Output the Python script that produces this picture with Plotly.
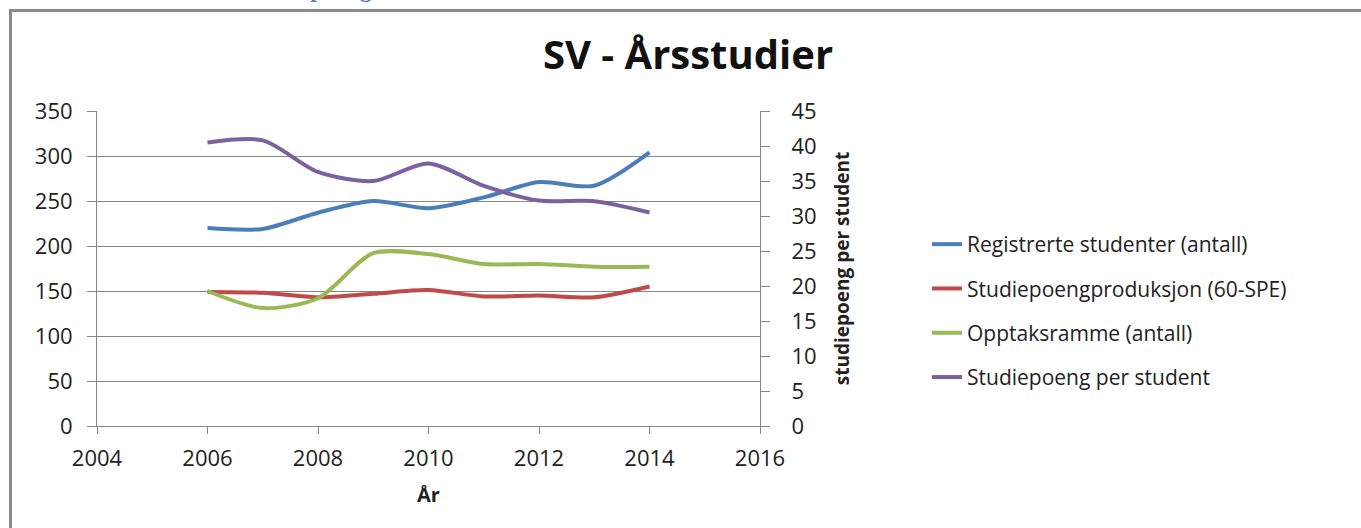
import plotly.graph_objects as go

years = [2006, 2007, 2008, 2009, 2010, 2011, 2012, 2013, 2014]
registrerte = [220, 219, 237, 250, 242, 254, 271, 267, 304]
produksjon = [149, 148, 143, 147, 151, 144, 145, 143, 155]
opptaksramme = [150, 131, 142, 192, 191, 180, 180, 177, 177]
sp_per_student = [40.5, 40.8, 36.3, 35.0, 37.5, 34.3, 32.2, 32.1, 30.5]

names = ["Registrerte studenter (antall)", "Studiepoengproduksjon (60-SPE)",
         "Opptaksramme (antall)", "Studiepoeng per student"]
colors = ["#4A7EBB", "#BE4B48", "#98B954", "#7D60A0"]

FONT = "Open Sans"
W, H = 1361, 528
L, R, T, B = 97, 760, 111, 426

fig = go.Figure()
series = [registrerte, produksjon, opptaksramme]
for i, s in enumerate(series):
    fig.add_trace(go.Scatter(x=years, y=s, name=names[i], mode="lines",
                             line=dict(color=colors[i], width=4, shape="spline", smoothing=0.8),
                             legendgroup=str(i), yaxis="y"))
fig.add_trace(go.Scatter(x=years, y=sp_per_student, name=names[3], mode="lines",
                         line=dict(color=colors[3], width=4, shape="spline", smoothing=0.8),
                         legendgroup="3", yaxis="y2"))

def px2x(px):
    return (px - L) / (R - L)

def py2y(py):
    return (B - py) / (B - T)

axcol = "#868686"
fig.update_layout(
    width=W, height=H,
    margin=dict(l=L, r=W - R, t=T, b=H - B, pad=0),
    plot_bgcolor="white", paper_bgcolor="white",
    font=dict(family=FONT, size=21, color="#222222"),
    title=dict(text="<b>SV - Årsstudier</b>", x=(688) / W, xanchor="center",
               y=1 - 55 / H, yanchor="middle",
               font=dict(family=FONT, size=40, color="#111111")),
    xaxis=dict(range=[2004, 2016], dtick=2, tick0=2004, showgrid=False,
               showline=True, linecolor=axcol, linewidth=1,
               ticks="outside", ticklen=7, tickcolor=axcol,
               tickfont=dict(size=22), zeroline=False, ticklabelstandoff=6,
               title=dict(text="<b>År</b>", font=dict(size=20), standoff=16)),
    yaxis=dict(range=[0, 350], dtick=50, showgrid=True, gridcolor=axcol, gridwidth=1,
               showline=True, linecolor=axcol, linewidth=1,
               ticks="outside", ticklen=9, tickcolor=axcol,
               tickfont=dict(size=22), zeroline=False, ticklabelstandoff=10),
    yaxis2=dict(range=[0, 45], dtick=5, overlaying="y", side="right", showgrid=False,
                showline=True, linecolor=axcol, linewidth=1,
                ticks="outside", ticklen=9, tickcolor=axcol,
                tickfont=dict(size=22), zeroline=False, ticklabelstandoff=17,
                title=dict(text="<b>studiepoeng per student</b>", font=dict(size=19), standoff=20)),
    legend=dict(x=px2x(927), y=py2y(311), xanchor="left", yanchor="middle",
                font=dict(size=21), tracegroupgap=14, bgcolor="rgba(0,0,0,0)"),
    showlegend=True,
)

# Outer chart frame (document chart border)
fig.add_shape(type="line", xref="paper", yref="paper",
              x0=px2x(9), x1=px2x(W + 5), y0=py2y(10.5), y1=py2y(10.5),
              line=dict(color="#8a8a8a", width=3))
fig.add_shape(type="line", xref="paper", yref="paper",
              x0=px2x(10.5), x1=px2x(10.5), y0=py2y(9), y1=py2y(H + 5),
              line=dict(color="#8a8a8a", width=3))

# Clipped heading fragment above chart (only descenders visible)
fig.add_annotation(text="<b>Studiepoeng</b>", xref="paper", yref="paper",
                   x=px2x(243), y=py2y(-11), xanchor="left", yanchor="middle",
                   showarrow=False, font=dict(family="Liberation Serif", size=24, color="#4F81BD"))

fig.write_html("out.html", config={"displayModeBar": False},
               post_script="document.body.style.margin='0px';document.body.style.overflow='hidden';")
